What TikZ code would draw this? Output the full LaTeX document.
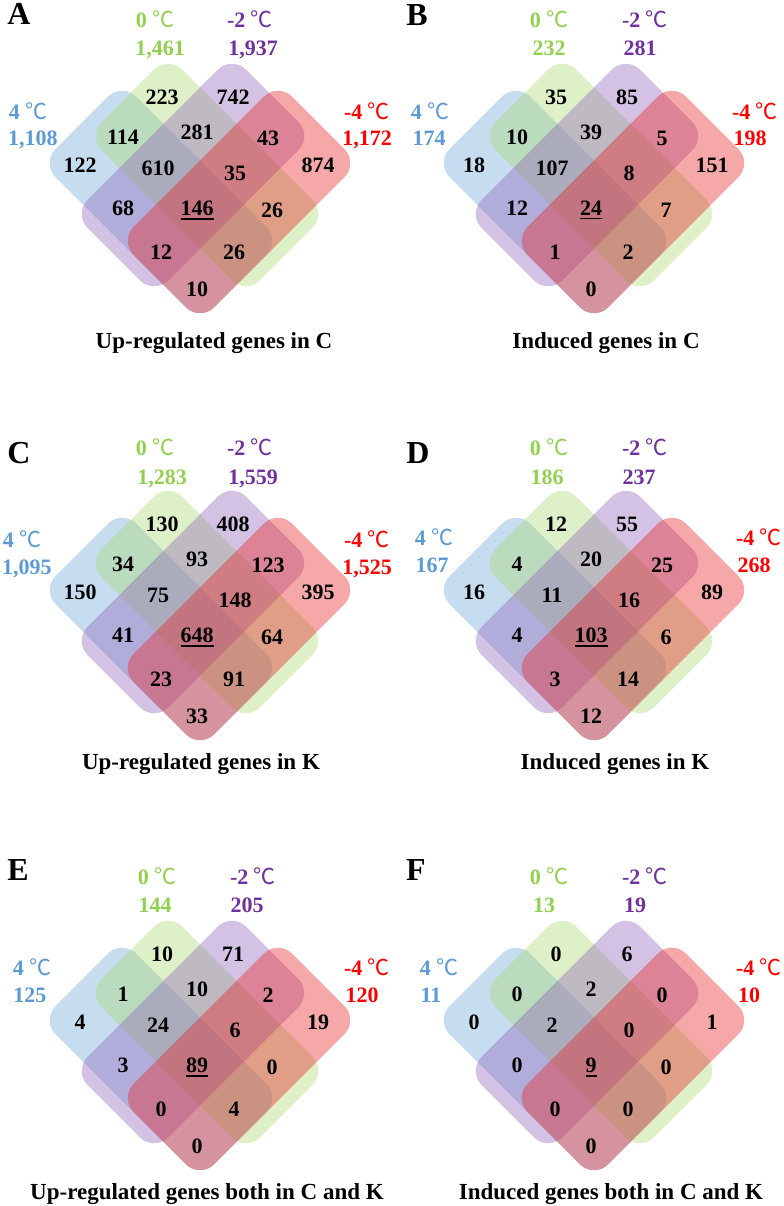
\documentclass[tikz,border=0pt]{standalone}
\usepackage{fontspec}
\setmainfont{Liberation Serif}
\newfontfamily\cjkfont{Noto Sans CJK SC}
\definecolor{vblue}{RGB}{112,170,217}
\definecolor{vgreen}{RGB}{170,217,117}
\definecolor{vpurple}{RGB}{147,102,187}
\definecolor{vred}{RGB}{232,37,37}
\definecolor{lblue}{RGB}{91,155,213}
\definecolor{lgreen}{RGB}{146,208,80}
\definecolor{lpurple}{RGB}{112,48,160}
\definecolor{lred}{RGB}{255,0,0}
\newcommand\celsiusmark{{\cjkfont\mdseries ℃}}
\newcommand\ulnum[1]{\leavevmode\vtop{\hbox{#1}\kern1.6pt\hrule height1.3pt}}
\tikzset{
  setbox/.style={fill=#1, fill opacity=0.4, rounded corners=15pt},
  num/.style={font=\bfseries\fontsize{16.5}{18}\selectfont, inner sep=0pt, text height=11.2pt, text depth=0pt},
  lab/.style={num, text=#1},
  panelletter/.style={font=\bfseries\fontsize{24}{26}\selectfont, inner sep=0pt, text height=15.9pt, text depth=0pt},
  caption/.style={font=\bfseries\fontsize{17.25}{19}\selectfont, inner sep=0pt, anchor=base},
}
\newcommand\vennsets{%
  \fill[setbox=vblue] (201.3,161.7) -- (280.5,240.9) -- (199.9,321.5) -- (41.5,163.1) -- (122.1,82.5) -- cycle;
  \fill[setbox=vgreen] (247.3,134.7) -- (326.5,213.9) -- (245.9,294.5) -- (87.5,136.1) -- (168.1,55.5) -- cycle;
  \fill[setbox=vpurple] (272.2,95.8) -- (312.5,136.1) -- (154.1,294.5) -- (73.5,213.9) -- (231.9,55.5) -- cycle;
  \fill[setbox=vred] (318.2,122.8) -- (358.5,163.1) -- (200.1,321.5) -- (119.5,240.9) -- (277.9,82.5) -- cycle;
  \coordinate (p1) at (162,97);
  \coordinate (p2) at (233,97);
  \coordinate (p3) at (123,137);
  \coordinate (p4) at (197,132);
  \coordinate (p5) at (268,138);
  \coordinate (p6) at (80,165);
  \coordinate (p7) at (158,168);
  \coordinate (p8) at (235,173);
  \coordinate (p9) at (318,165);
  \coordinate (p10) at (123,208);
  \coordinate (p11) at (197,208);
  \coordinate (p12) at (272,210);
  \coordinate (p13) at (161,252);
  \coordinate (p14) at (234,252);
  \coordinate (p15) at (197,289);
}
\newcommand\vennnums[2]{%
  \foreach \t [count=\i] in {#2} {\node[num] (#1n\i) at (p\i) {\t};}
}
\begin{document}
\begin{tikzpicture}[x=0.75pt,y=-0.75pt]
\useasboundingbox (0,0) rectangle (784,1206);

% Panel A
\begin{scope}[shift={(0,0)}]
  \vennsets
  \vennnums{A}{223,742,114,281,43,122,610,35,874,68,\ulnum{146},26,12,26,10}
  \node[panelletter] (Aletter) at (19,14) {A};
  \node[lab=lgreen] (Ag) at (155,20) {0 \celsiusmark};
  \node[lab=lgreen] (Agn) at (160,48) {1,461};
  \node[lab=lpurple] (Ap) at (250,20) {-2 \celsiusmark};
  \node[lab=lpurple] (Apn) at (253,48) {1,937};
  \node[lab=lblue] (Ab) at (28,112) {4 \celsiusmark};
  \node[lab=lblue] (Abn) at (33,138) {1,108};
  \node[lab=lred] (Ar) at (367,112) {-4 \celsiusmark};
  \node[lab=lred] (Arn) at (367,138) {1,172};
  \node[caption] (Atitle) at (214,348) {Up-regulated genes in C};
\end{scope}

% Panel B
\begin{scope}[shift={(394,0)}]
  \vennsets
  \vennnums{B}{35,85,10,39,5,18,107,8,151,12,\ulnum{24},7,1,2,0}
  \node[panelletter] (Bletter) at (23,15) {B};
  \node[lab=lgreen] (Bg) at (155,20) {0 \celsiusmark};
  \node[lab=lgreen] (Bgn) at (155,48) {232};
  \node[lab=lpurple] (Bp) at (251,20) {-2 \celsiusmark};
  \node[lab=lpurple] (Bpn) at (246,48) {281};
  \node[lab=lblue] (Bb) at (36,112) {4 \celsiusmark};
  \node[lab=lblue] (Bbn) at (35,138) {174};
  \node[lab=lred] (Br) at (361,112) {-4 \celsiusmark};
  \node[lab=lred] (Brn) at (356,138) {198};
  \node[caption] (Btitle) at (212,348) {Induced genes in C};
\end{scope}

% Panel C
\begin{scope}[shift={(0,427)}]
  \vennsets
  \vennnums{C}{130,408,34,93,123,150,75,148,395,41,\ulnum{648},64,23,91,33}
  \node[panelletter] (Cletter) at (19,26) {C};
  \node[lab=lgreen] (Cg) at (155,21) {0 \celsiusmark};
  \node[lab=lgreen] (Cgn) at (162,50) {1,283};
  \node[lab=lpurple] (Cp) at (250,21) {-2 \celsiusmark};
  \node[lab=lpurple] (Cpn) at (253,50) {1,559};
  \node[lab=lblue] (Cb) at (22,113) {4 \celsiusmark};
  \node[lab=lblue] (Cbn) at (27,140) {1,095};
  \node[lab=lred] (Cr) at (367,113) {-4 \celsiusmark};
  \node[lab=lred] (Crn) at (367,140) {1,525};
  \node[caption] (Ctitle) at (201,342) {Up-regulated genes in K};
\end{scope}

% Panel D
\begin{scope}[shift={(394,427)}]
  \vennsets
  \vennnums{D}{12,55,4,20,25,16,11,16,89,4,\ulnum{103},6,3,14,12}
  \node[panelletter] (Dletter) at (24,26) {D};
  \node[lab=lgreen] (Dg) at (155,21) {0 \celsiusmark};
  \node[lab=lgreen] (Dgn) at (153,50) {186};
  \node[lab=lpurple] (Dp) at (251,21) {-2 \celsiusmark};
  \node[lab=lpurple] (Dpn) at (245,50) {237};
  \node[lab=lblue] (Db) at (40,111) {4 \celsiusmark};
  \node[lab=lblue] (Dbn) at (38,138) {167};
  \node[lab=lred] (Dr) at (365,111) {-4 \celsiusmark};
  \node[lab=lred] (Drn) at (360,138) {268};
  \node[caption] (Dtitle) at (221,342) {Induced genes in K};
\end{scope}

% Panel E
\begin{scope}[shift={(0,857)}]
  \vennsets
  \vennnums{E}{10,71,1,10,2,4,24,6,19,3,\ulnum{89},0,0,4,0}
  \node[panelletter] (Eletter) at (18,13) {E};
  \node[lab=lgreen] (Eg) at (157,20) {0 \celsiusmark};
  \node[lab=lgreen] (Egn) at (155,48) {144};
  \node[lab=lpurple] (Ep) at (253,20) {-2 \celsiusmark};
  \node[lab=lpurple] (Epn) at (247,48) {205};
  \node[lab=lblue] (Eb) at (32,111) {4 \celsiusmark};
  \node[lab=lblue] (Ebn) at (30,138) {125};
  \node[lab=lred] (Er) at (367,111) {-4 \celsiusmark};
  \node[lab=lred] (Ern) at (362,138) {120};
  \node[caption] (Etitle) at (207,342) {Up-regulated genes both in C and K};
\end{scope}

% Panel F
\begin{scope}[shift={(394,857)}]
  \vennsets
  \vennnums{F}{0,6,0,2,0,0,2,0,1,0,\ulnum{9},0,0,0,0}
  \node[panelletter] (Fletter) at (22,13) {F};
  \node[lab=lgreen] (Fg) at (155,20) {0 \celsiusmark};
  \node[lab=lgreen] (Fgn) at (150,48) {13};
  \node[lab=lpurple] (Fp) at (251,20) {-2 \celsiusmark};
  \node[lab=lpurple] (Fpn) at (241,48) {19};
  \node[lab=lblue] (Fb) at (45,111) {4 \celsiusmark};
  \node[lab=lblue] (Fbn) at (37,138) {11};
  \node[lab=lred] (Fr) at (365,111) {-4 \celsiusmark};
  \node[lab=lred] (Frn) at (355,138) {10};
  \node[caption] (Ftitle) at (217,342) {Induced genes both in C and K};
\end{scope}
\end{tikzpicture}
\end{document}
